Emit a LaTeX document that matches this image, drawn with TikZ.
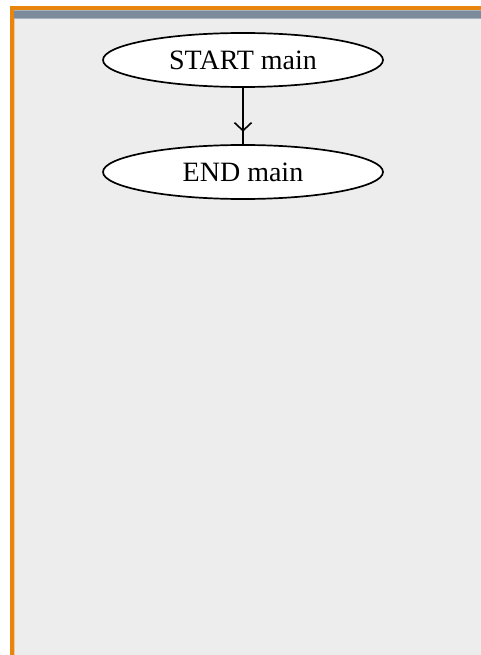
\documentclass[tikz,border=0pt]{standalone}
\usepackage{fontspec}
\setmainfont{Liberation Serif}
\usetikzlibrary{arrows.meta,decorations.markings,shapes.geometric}
\definecolor{frameorange}{HTML}{E8850F}
\definecolor{paleorange}{HTML}{F3C89A}
\definecolor{barblue}{HTML}{7B8B9B}
\definecolor{barlight}{HTML}{A7B1BB}
\definecolor{panelbg}{HTML}{EDEDED}
\tikzset{
  terminal/.style={ellipse, draw=black, line width=1.7pt, fill=white,
    minimum width=280pt, minimum height=54pt, inner sep=0pt,
    font=\fontsize{28}{32}\selectfont},
  flow/.style={draw=black, line width=1.6pt,
    postaction={decorate},
    decoration={markings, mark=at position 0.78 with {\arrow{Straight Barb[length=8pt,width=17pt,line width=1.6pt]}}}}
}
\begin{document}
\begin{tikzpicture}[x=1pt,y=-1pt]
\useasboundingbox (0,0) rectangle (481,655);
\fill[white] (0,0) rectangle (481,655);
\fill[frameorange] (10,6) rectangle (481,655);
\fill[paleorange] (14,10) rectangle (15,655);
\fill[barblue] (14,10) rectangle (481,19);
\fill[barlight] (14,10) rectangle (481,11);
\fill[barlight] (14,18) rectangle (481,19);
\fill[panelbg] (15,19) rectangle (481,655);
\node[terminal] (start) at (243,60) {START main};
\node[terminal] (end) at (243,172) {END main};
\draw[flow] (start.south) -- (end.north);
\end{tikzpicture}
\end{document}
